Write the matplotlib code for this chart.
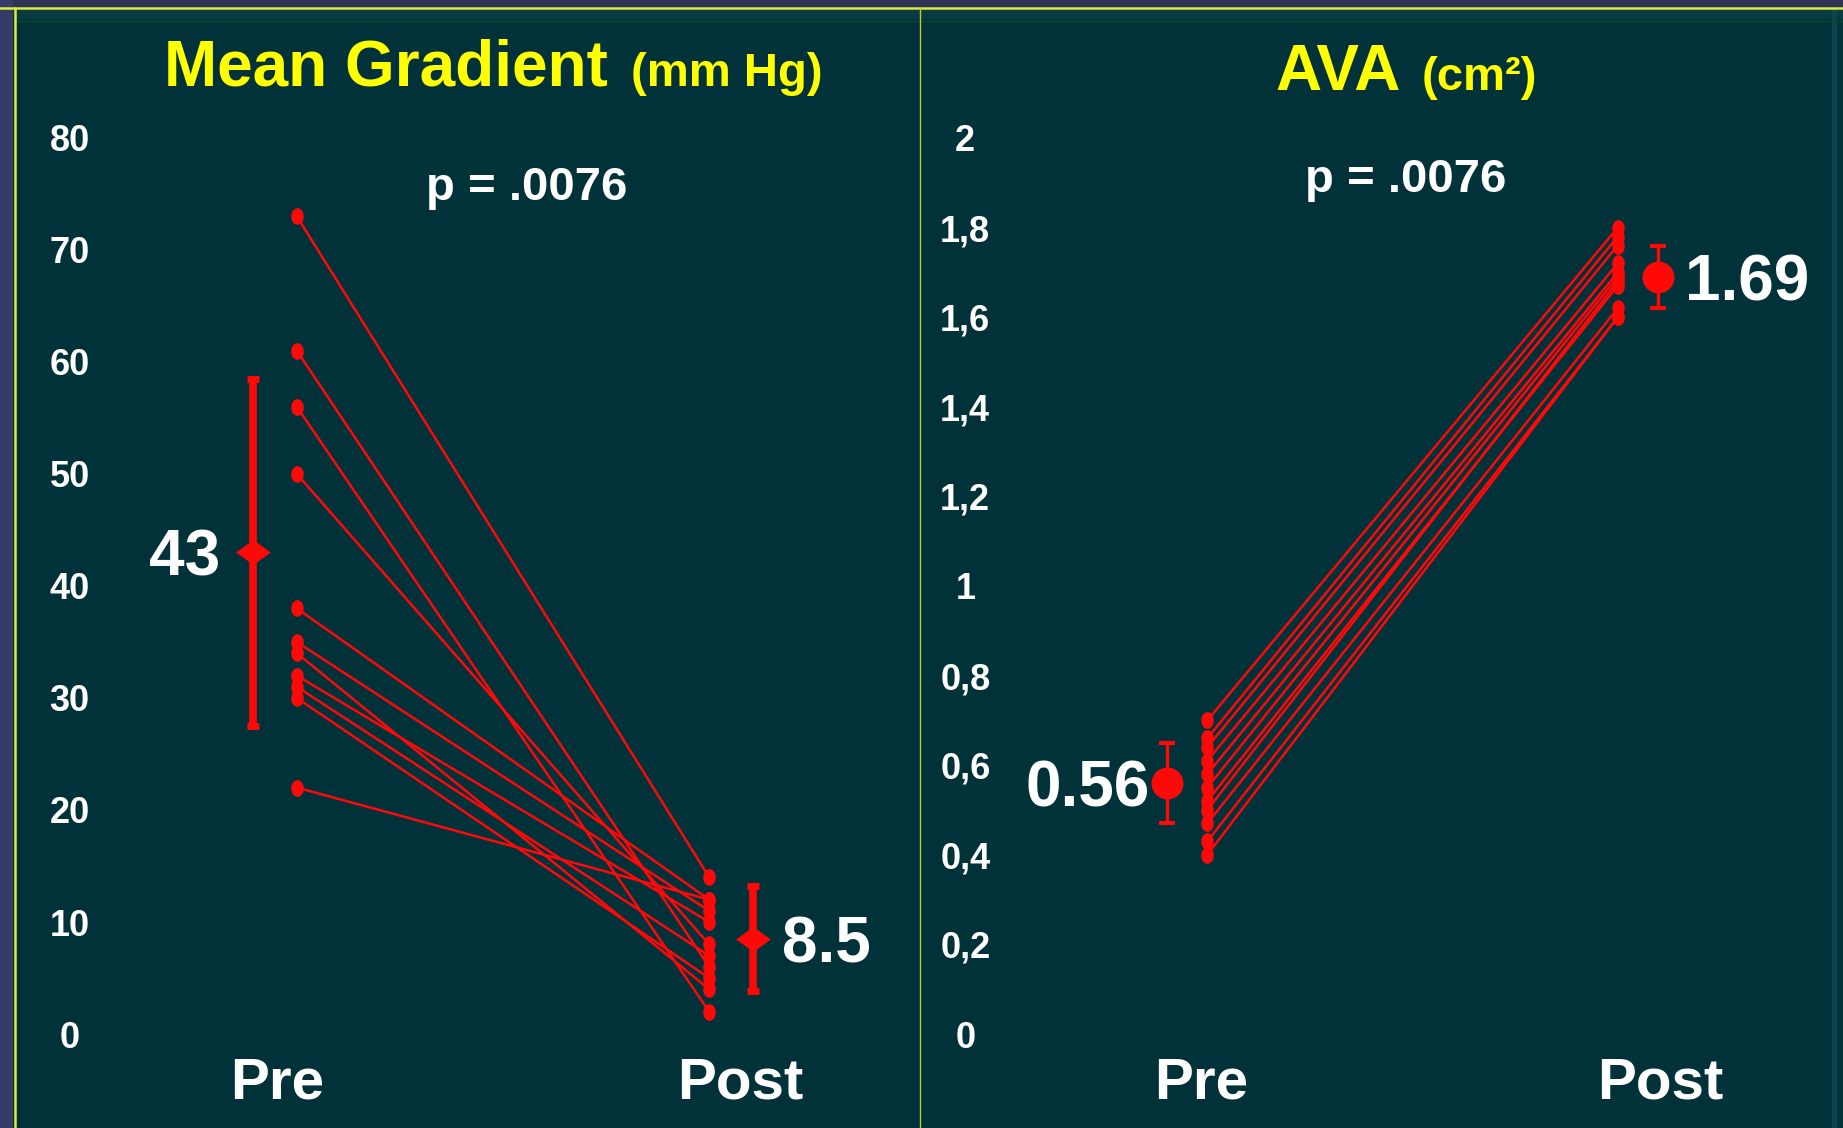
import numpy as np
import matplotlib.pyplot as plt
from matplotlib.patches import Rectangle
from matplotlib.lines import Line2D
from matplotlib.ticker import FuncFormatter, MultipleLocator

plt.rcParams['font.family'] = ['Liberation Sans', 'DejaVu Sans']

groups = ['Pre', 'Post']

# mean transvalvular gradient (mm Hg), one pair per patient
gradPre = [73, 61, 56, 50, 38, 35, 34, 32, 31, 30, 22]
gradPost = [14, 6, 2, 8, 12, 11, 4, 10, 7, 5, 12]
gradMean = [43, 8.5]
gradSd = [15.5, 4.7]

# aortic valve area (cm2), one pair per patient
avaPre = [0.70, 0.66, 0.64, 0.61, 0.58, 0.55, 0.52, 0.50, 0.47, 0.43, 0.40]
avaPost = [1.80, 1.78, 1.76, 1.72, 1.70, 1.69, 1.67, 1.68, 1.62, 1.60, 1.60]
avaMean = [0.56, 1.69]
avaSd = [0.09, 0.07]

pText = ['p = .0076', 'p = .0076']

bg = '#01323a'
red = '#ff0808'
yellow = '#ffff00'
frameYellow = '#dcec3c'

W, H = 1843, 1128
fig = plt.figure(figsize=(W / 100, H / 100), dpi=100, facecolor=bg)


def fx(x):
    return x / W


def fy(y):
    return 1 - y / H


# slide frame
tf = fig.transFigure
fig.add_artist(Rectangle((0, fy(7)), 1, 7 / H, transform=tf, color='#2f3454', lw=0))
fig.add_artist(Rectangle((fx(16), fy(19)), 1, 9 / H, transform=tf, color='#0a3b42', lw=0))
fig.add_artist(Rectangle((fx(16), fy(23)), 1, 3 / H, transform=tf, color='#003f30', lw=0))
fig.add_artist(Rectangle((0, 0), fx(13), 1, transform=tf, color='#363c6a', lw=0))
fig.add_artist(Rectangle((fx(1832), 0), fx(5), fy(8), transform=tf, color='#0b444c', lw=0))
fig.add_artist(Line2D([0, 1], [fy(7.5), fy(7.5)], transform=tf, color=frameYellow, lw=1.8))
fig.add_artist(Line2D([fx(14.5), fx(14.5)], [fy(7.5), 0], transform=tf, color=frameYellow, lw=1.8))
fig.add_artist(Line2D([fx(920), fx(920)], [fy(8), 0], transform=tf, color='#c9c63a', lw=1.0))

theta = np.linspace(0, 2 * np.pi, 40)
dotMarker = list(zip(0.75 * np.cos(theta), np.sin(theta)))
diamond = [(-1, 0), (0, 0.72), (1, 0), (0, -0.72), (-1, 0)]


def drawPanel(ax, pre, post, mean, sd, offset, meanMarker, meanSize, barWidth, capSize, capThick,
              textShift, tickPos):
    for a, b in zip(pre, post):
        ax.plot([0 + offset, 1 - offset], [a, b], color=red, lw=1.8, zorder=2)
    ax.plot([0 + offset] * len(pre), pre, ls='none', marker=dotMarker, ms=12, color=red, mew=0, zorder=3)
    ax.plot([1 - offset] * len(post), post, ls='none', marker=dotMarker, ms=12, color=red, mew=0, zorder=3)

    mx = [0 - offset, 1 + offset]
    ax.errorbar(mx, mean, yerr=sd, fmt='none', ecolor=red, elinewidth=barWidth,
                capsize=capSize, capthick=capThick, zorder=4)
    ax.plot(mx, mean, ls='none', marker=meanMarker, ms=meanSize, color=red, mew=0, zorder=5)

    for x, m, dx in zip(mx, mean, textShift):
        ax.annotate('{:g}'.format(m), (x, m), xytext=(dx, 0), textcoords='offset points',
                    ha='right' if dx < 0 else 'left', va='center_baseline',
                    color='white', fontsize=46, fontweight='bold', zorder=6)

    ax.set_facecolor('none')
    for s in ax.spines.values():
        s.set_visible(False)
    ax.set_xticks(tickPos)
    ax.set_xticklabels(groups)
    ax.tick_params(axis='both', length=0, colors='white')
    ax.tick_params(axis='x', labelsize=42, pad=16)
    ax.tick_params(axis='y', labelsize=26)
    for lab in ax.get_xticklabels() + ax.get_yticklabels():
        lab.set_fontweight('bold')
    for lab in ax.get_yticklabels():
        lab.set_horizontalalignment('center')


axBottom = fy(1034)
axHeight = (1034 - 138) / H

# left panel: mean gradient
ax1 = fig.add_axes([fx(110), axBottom, fx(795), axHeight])
ax1.set_xlim(-(275 - 110) / 456, 1 + (905 - 731) / 456)
ax1.set_ylim(0, 80)
ax1.yaxis.set_major_locator(MultipleLocator(10))
drawPanel(ax1, gradPre, gradPost, gradMean, gradSd, 0.048, diamond, 25, 5.5, 4, 5,
          [-24, 21], [0.005, 1.02])
ax1.tick_params(axis='y', pad=29)

# right panel: valve area
ax2 = fig.add_axes([fx(1000), axBottom, fx(830), axHeight])
ax2.set_xlim(-(1187 - 1000) / 451, 1 + (1830 - 1638) / 451)
ax2.set_ylim(0, 2)
ax2.yaxis.set_major_locator(MultipleLocator(0.2))
ax2.yaxis.set_major_formatter(FuncFormatter(lambda v, p: '{:g}'.format(round(v, 1)).replace('.', ',')))
drawPanel(ax2, avaPre, avaPost, avaMean, avaSd, 0.045, 'o', 23, 2.4, 6, 3,
          [-12, 19], [0.031, 1.05])
ax2.tick_params(axis='y', pad=25)

# panel titles
fig.text(fx(608), fy(86), 'Mean Gradient', ha='right', va='baseline', color=yellow,
         fontsize=46, fontweight='bold')
fig.text(fx(631), fy(86), '(mm Hg)', ha='left', va='baseline', color=yellow,
         fontsize=34, fontweight='bold')
fig.text(fx(1401), fy(90), 'AVA', ha='right', va='baseline', color=yellow,
         fontsize=46, fontweight='bold')
fig.text(fx(1422), fy(90), '(cm²)', ha='left', va='baseline', color=yellow,
         fontsize=34, fontweight='bold')

fig.text(fx(527), fy(188), pText[0], ha='center', va='center', color='white',
         fontsize=34, fontweight='bold')
fig.text(fx(1406), fy(180), pText[1], ha='center', va='center', color='white',
         fontsize=34, fontweight='bold')

fig.savefig('out.png', dpi=100, facecolor=bg)
